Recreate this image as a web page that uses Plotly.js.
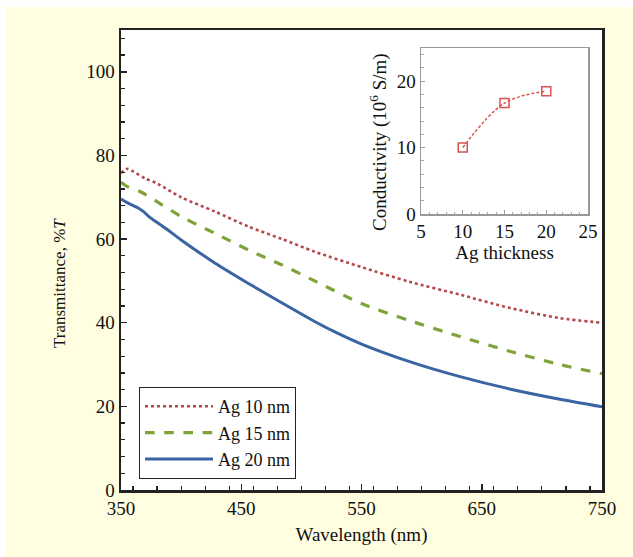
<!DOCTYPE html>
<html>
<head>
<meta charset="utf-8">
<script src="https://cdn.plot.ly/plotly-3.0.1.min.js"></script>
<style>html,body{margin:0;padding:0;background:#FFFEE0;}</style>
</head>
<body>
<div id="chart" style="width:633px;height:557px;"></div>
<script>
// Main chart: transmittance spectra
const wl10 = [350, 355, 360, 370, 380, 400, 428, 456, 484, 511, 550, 590, 632, 674, 715, 750];
const t10  = [75.8, 76.8, 76.2, 74.5, 73.3, 70.0, 66.6, 63.0, 60.0, 57.0, 53.3, 49.8, 46.7, 43.5, 41.1, 40.0];

const wl15 = [350, 355, 365, 373, 400, 428, 456, 484, 511, 550, 590, 632, 674, 715, 750];
const t15  = [73.6, 72.6, 71.5, 70.2, 65.4, 61.4, 57.4, 53.8, 50.0, 44.6, 40.5, 36.7, 33.1, 30.0, 27.8];

const wl20 = [350, 356, 364, 369, 374, 387, 400, 428, 456, 484, 511, 530, 550, 590, 632, 674, 715, 750];
const t20  = [69.6, 68.6, 67.5, 66.5, 65.2, 62.6, 59.8, 54.3, 49.4, 44.7, 40.3, 37.5, 34.9, 30.7, 27.1, 24.1, 21.7, 19.9];

const seriesNames = ["Ag 10 nm", "Ag 15 nm", "Ag 20 nm"];

// Inset: conductivity vs Ag thickness
const thickness = [10, 15, 20];
const conductivity = [10.0, 16.7, 18.5];

const serif = "Liberation Serif, Times New Roman, serif";

const traces = [
  {x: wl10, y: t10, name: seriesNames[0], type: "scatter", mode: "lines",
   line: {color: "#B5474B", width: 2.6, dash: "dot", shape: "spline", smoothing: 0.8}},
  {x: wl15, y: t15, name: seriesNames[1], type: "scatter", mode: "lines",
   line: {color: "#7FA23A", width: 3.2, dash: "dash", shape: "spline", smoothing: 0.8}},
  {x: wl20, y: t20, name: seriesNames[2], type: "scatter", mode: "lines",
   line: {color: "#3A64A2", width: 3, shape: "spline", smoothing: 0.6}},
  {x: thickness, y: conductivity, xaxis: "x2", yaxis: "y2", type: "scatter", mode: "lines+markers",
   showlegend: false, line: {color: "#D9534F", width: 1.5, dash: "3px,2px", shape: "spline"},
   marker: {symbol: "square-open", size: 9, color: "#D9534F", line: {width: 1.5}}}
];

const W = 633, H = 557, L = 121, R = 31, T = 30, B = 67;
const pw = W - L - R, ph = H - T - B;
const px = v => (v - L) / pw;
const py = v => (H - B - v) / ph;

const layout = {
  width: W, height: H,
  margin: {l: L, r: R, t: T, b: B},
  paper_bgcolor: "#FFFEE0",
  plot_bgcolor: "#FFFFFF",
  font: {family: serif, size: 18, color: "#111"},
  showlegend: true,
  legend: {x: px(139), y: py(387), xanchor: "left", yanchor: "top",
           bgcolor: "#FFFFFF", bordercolor: "#222", borderwidth: 1, itemwidth: 68,
           font: {family: serif, size: 18, color: "#111"}, tracegroupgap: 0},
  xaxis: {range: [350, 750], dtick: 100, tick0: 350, ticks: "inside", ticklen: 6, tickwidth: 1.5,
          tickcolor: "#222", showline: true, linewidth: 2.5, linecolor: "#222", mirror: true,
          showgrid: false, zeroline: false,
          minor: {dtick: 20, ticks: "inside", ticklen: 4, tickwidth: 1.2, tickcolor: "#222"},
          tickfont: {family: serif, size: 19},
          title: {text: "Wavelength (nm)", font: {family: serif, size: 19}, standoff: 10}},
  yaxis: {range: [0, 110], dtick: 20, ticks: "inside", ticklen: 6, tickwidth: 1.5,
          tickcolor: "#222", showline: true, linewidth: 2.5, linecolor: "#222", mirror: true,
          showgrid: false, zeroline: false,
          minor: {dtick: 4, ticks: "inside", ticklen: 4, tickwidth: 1.2, tickcolor: "#222"},
          tickfont: {family: serif, size: 19}},
  xaxis2: {domain: [px(421), px(588)], anchor: "y2", range: [5, 25], dtick: 5,
           ticks: "inside", ticklen: 4, tickwidth: 1, tickcolor: "#999",
           showline: true, linewidth: 1.5, linecolor: "#999", mirror: true,
           showgrid: false, zeroline: false,
           minor: {dtick: 1, ticks: "inside", ticklen: 2.5, tickwidth: 1, tickcolor: "#aaa"},
           tickfont: {family: serif, size: 19},
           title: {text: "Ag thickness", font: {family: serif, size: 19}, standoff: 4}},
  yaxis2: {domain: [py(214), py(48)], anchor: "x2", range: [0, 25], dtick: 10,
           ticks: "inside", ticklen: 4, tickwidth: 1, tickcolor: "#999",
           showline: true, linewidth: 1.5, linecolor: "#999", mirror: true,
           showgrid: false, zeroline: false,
           minor: {dtick: 2, ticks: "inside", ticklen: 2.5, tickwidth: 1, tickcolor: "#aaa"},
           tickfont: {family: serif, size: 19}},
  annotations: [
    {text: "Transmittance, %<i>T</i>", xref: "paper", yref: "paper", x: px(59), y: py(283),
     xanchor: "center", yanchor: "middle", textangle: -90, showarrow: false,
     font: {family: serif, size: 17, color: "#111"}},
    {text: "Conductivity (10<sup>6</sup> S/m)", xref: "paper", yref: "paper", x: px(378), y: py(142),
     xanchor: "center", yanchor: "middle", textangle: -90, showarrow: false,
     font: {family: serif, size: 19, color: "#111"}}
  ],
  shapes: [
    {type: "rect", xref: "paper", yref: "paper", x0: px(0), x1: px(633), y0: py(7), y1: py(0),
     fillcolor: "#FFFFFF", line: {width: 0}, layer: "below"},
    {type: "rect", xref: "paper", yref: "paper", x0: px(0), x1: px(6), y0: py(557), y1: py(0),
     fillcolor: "#FFFFFF", line: {width: 0}, layer: "below"}
  ]
};

Plotly.newPlot("chart", traces, layout, {displayModeBar: false, staticPlot: true});
</script>
</body>
</html>
